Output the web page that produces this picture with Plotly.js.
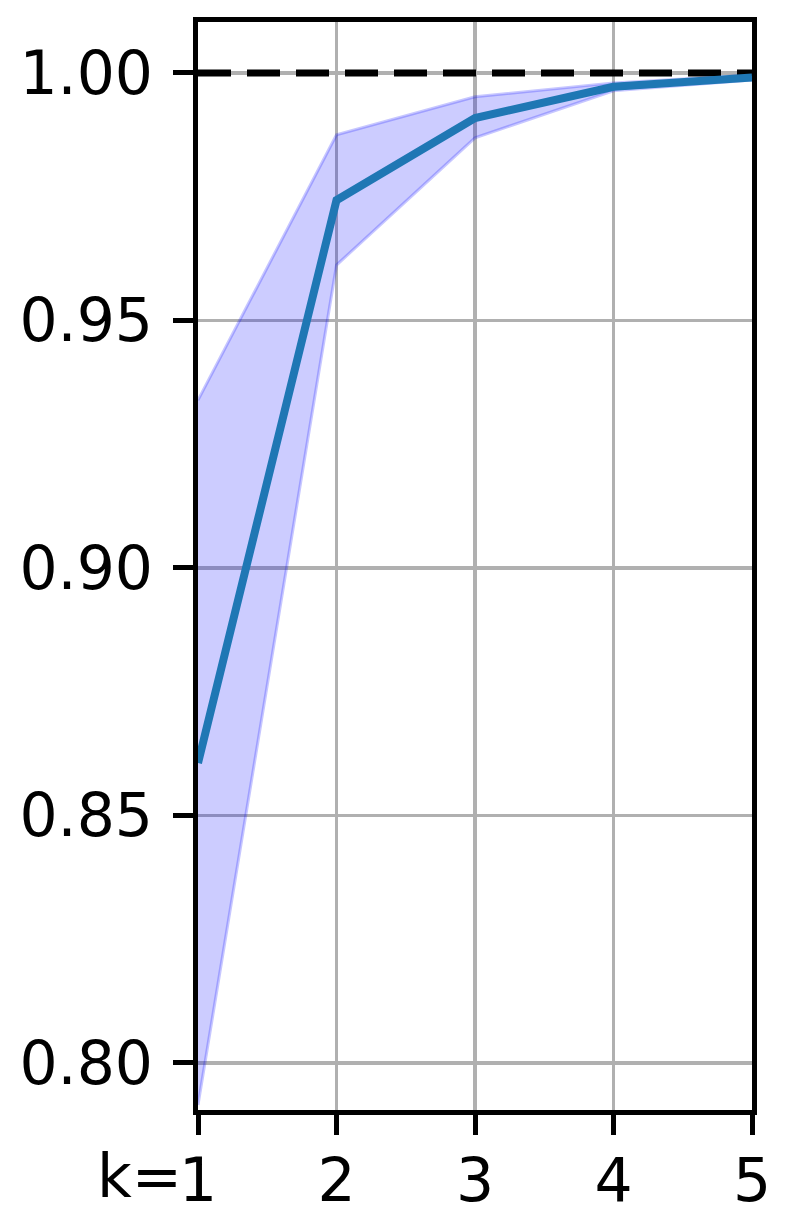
<!DOCTYPE html>
<html>
<head>
<meta charset="utf-8">
<script src="https://cdn.plot.ly/plotly-3.0.1.min.js"></script>
<style>
  html, body { margin: 0; padding: 0; background: #fff; }
  #chart { width: 793px; height: 1223px; }
</style>
</head>
<body>
<div id="chart"></div>
<script>
// top-k accuracy, mean with min/max band
const ks = [1, 2, 3, 4, 5];
const kLabels = ["1", "2", "3", "4", "5"];
const kPrefix = "k=";
const meanAcc = [0.8606, 0.9743, 0.9909, 0.9972, 0.9991];
const upperAcc = [0.9339, 0.9875, 0.9952, 0.9980, 0.9996];
const lowerAcc = [0.7915, 0.9612, 0.9869, 0.9964, 0.9986];
const refLevel = [1.0, 1.0];
const refX = [1, 5];
const yTicks = [0.80, 0.85, 0.90, 0.95, 1.00];

const tickFont = { family: "DejaVu Sans", size: 60, color: "#000" };
const bandLine = { color: "rgba(0,0,255,0.22)", width: 3 };

const traces = [
  {
    x: ks, y: lowerAcc,
    mode: "lines", line: bandLine,
    hoverinfo: "skip", showlegend: false
  },
  {
    x: ks, y: upperAcc,
    mode: "lines", line: bandLine,
    fill: "tonexty", fillcolor: "rgba(0,0,255,0.2)",
    hoverinfo: "skip", showlegend: false
  },
  {
    x: refX, y: refLevel,
    mode: "lines",
    line: { color: "#000", width: 7, dash: "33px,16px" },
    showlegend: false
  },
  {
    x: ks, y: meanAcc,
    mode: "lines",
    line: { color: "#1f77b4", width: 8 },
    showlegend: false
  }
];

const axisCommon = {
  showline: true,
  mirror: true,
  linecolor: "#000",
  linewidth: 5,
  showgrid: true,
  gridcolor: "#b0b0b0",
  gridwidth: 3.5,
  zeroline: false,
  ticks: "outside",
  ticklen: 20,
  tickwidth: 5,
  tickcolor: "#000",
  tickfont: tickFont
};

const layout = {
  width: 793,
  height: 1223,
  paper_bgcolor: "#fff",
  plot_bgcolor: "#fff",
  margin: { l: 198, r: 41, t: 22, b: 113 },
  showlegend: false,
  xaxis: Object.assign({}, axisCommon, {
    range: [1, 5],
    tickmode: "array",
    tickvals: ks,
    ticktext: kLabels,
    ticklabelstandoff: -6
  }),
  yaxis: Object.assign({}, axisCommon, {
    range: [0.7905, 1.0103],
    tickmode: "array",
    tickvals: yTicks,
    ticktext: yTicks.map(v => v.toFixed(2)),
    ticklabelstandoff: 8
  }),
  // "k=" prefix sits left of the first tick label, as in the original
  annotations: [{
    x: ks[0], xref: "x",
    y: 0, yref: "paper",
    text: kPrefix,
    showarrow: false,
    xanchor: "right", yanchor: "top",
    xshift: -15, yshift: -30,
    borderpad: 0,
    font: tickFont
  }]
};

Plotly.newPlot("chart", traces, layout, { displayModeBar: false, staticPlot: true });
</script>
</body>
</html>
